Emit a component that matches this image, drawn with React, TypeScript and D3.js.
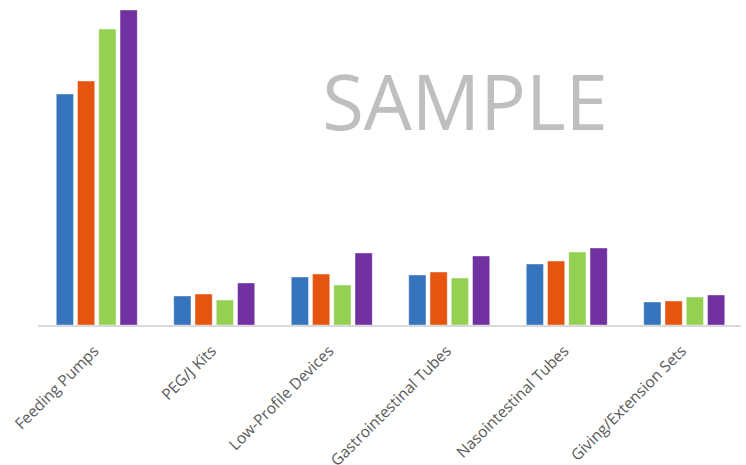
import React from "react";
import * as d3 from "d3";

const categories = [
  "Feeding Pumps",
  "PEG/J Kits",
  "Low-Profile Devices",
  "Gastrointestinal Tubes",
  "Nasointestinal Tubes",
  "Giving/Extension Sets",
];
const seriesNames = ["Series 1", "Series 2", "Series 3", "Series 4"];
const series1 = [231, 29, 48, 50, 61, 23];
const series2 = [244, 31, 51, 53, 64, 24];
const series3 = [296, 25, 40, 47, 73, 28];
const series4 = [315, 42, 72, 69, 77, 30];
const seriesValues = [series1, series2, series3, series4];
const colors = ["#3674BD", "#E6550F", "#94D152", "#7131A0"];

const W = 746;
const H = 465;
const margin = { left: 38, right: 3, top: 10, bottom: 140 };

export default function App() {
  const x0 = d3
    .scaleBand<string>()
    .domain(categories)
    .range([margin.left, W - margin.right])
    .paddingInner(0)
    .paddingOuter(0);
  const groupW = 81;
  const x1 = d3
    .scaleBand<string>()
    .domain(seriesNames)
    .range([0, groupW])
    .paddingInner(0.19)
    .paddingOuter(0);
  const baseY = H - margin.bottom;
  const y = d3.scaleLinear().domain([0, 315]).range([baseY, margin.top]);

  return (
    <svg
      width={W}
      height={H}
      style={{ position: "absolute", left: 0, top: 0, background: "#fff" }}
      fontFamily="'Open Sans', sans-serif"
    >
      <text
        x={465}
        y={130}
        textAnchor="middle"
        fontSize={76}
        fill="#BFBFBF"
        fontFamily="'Open Sans', sans-serif"
      >
        SAMPLE
      </text>
      {categories.map((c, ci) => {
        const gx = (x0(c) as number) + (x0.bandwidth() - groupW) / 2;
        return (
          <g key={c}>
            {seriesNames.map((s, si) => {
              const v = seriesValues[si][ci];
              return (
                <rect
                  key={s}
                  x={gx + (x1(s) as number)}
                  y={y(v)}
                  width={x1.bandwidth()}
                  height={baseY - y(v)}
                  fill={colors[si]}
                  stroke="#ffffff"
                  strokeOpacity={0.5}
                  strokeWidth={0.8}
                />
              );
            })}
          </g>
        );
      })}
      <line
        x1={margin.left}
        x2={W - margin.right - 2}
        y1={baseY + 1}
        y2={baseY + 1}
        stroke="#D9D9D9"
        strokeWidth={2}
      />
      {categories.map((c) => {
        const cx = (x0(c) as number) + x0.bandwidth() / 2;
        return (
          <text
            key={c}
            transform={`translate(${cx + 3},${baseY + 27}) rotate(-45)`}
            textAnchor="end"
            fontSize={15.5}
            fill="#595959"
          >
            {c}
          </text>
        );
      })}
    </svg>
  );
}
